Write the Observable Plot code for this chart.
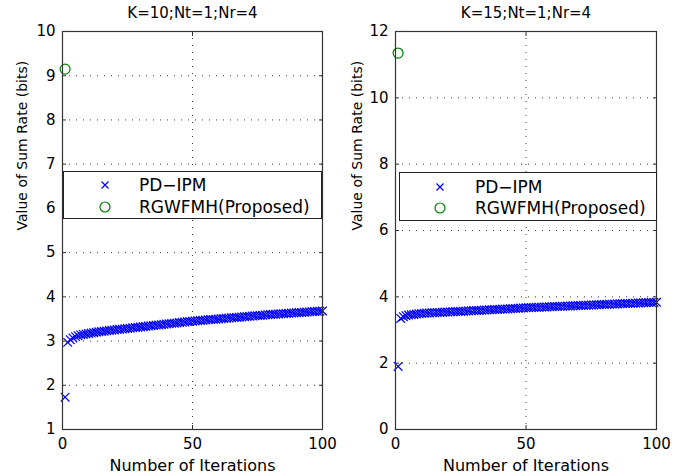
<!DOCTYPE html>
<html>
<head>
<meta charset="utf-8">
<script src="https://cdn.jsdelivr.net/npm/d3@7"></script>
<script src="https://cdn.jsdelivr.net/npm/@observablehq/plot@0.6"></script>
<style>
  html, body { margin: 0; padding: 0; background: #fff; }
  #wrap { position: relative; width: 684px; height: 476px; display: flex; }
  .legend { position: absolute; background: #fff; border: 1px solid #222; box-sizing: border-box;
            font-family: "DejaVu Sans", sans-serif; font-size: 17px; color: #000; }
  .legend svg { position: absolute; }
  .legend span { position: absolute; line-height: 20px; white-space: nowrap; }
</style>
</head>
<body>
<div id="wrap"></div>
<script>
// ---- data ----
const titles = ["K=10;Nt=1;Nr=4", "K=15;Nt=1;Nr=4"];
const xLabel = "Number of Iterations";
const yLabel = "Value of Sum Rate (bits)";
const seriesNames = ["PD\u2212IPM", "RGWFMH(Proposed)"];
const xTicks = [0, 50, 100];
const yTicksLeft = [1, 2, 3, 4, 5, 6, 7, 8, 9, 10];
const yTicksRight = [0, 2, 4, 6, 8, 10, 12];

// PD-IPM, K=10 (iterations 1..100)
const pdipmK10 = [
  1.73, 2.97, 3.03, 3.07, 3.10, 3.12, 3.14, 3.15, 3.16, 3.17,
  3.18, 3.19, 3.20, 3.21, 3.215, 3.22, 3.23, 3.24, 3.245, 3.25,
  3.26, 3.265, 3.27, 3.28, 3.285, 3.29, 3.30, 3.305, 3.31, 3.32,
  3.325, 3.33, 3.34, 3.345, 3.35, 3.36, 3.365, 3.37, 3.38, 3.385,
  3.39, 3.40, 3.405, 3.41, 3.42, 3.425, 3.43, 3.44, 3.445, 3.45,
  3.455, 3.46, 3.465, 3.47, 3.475, 3.48, 3.485, 3.49, 3.495, 3.50,
  3.505, 3.51, 3.515, 3.52, 3.525, 3.53, 3.535, 3.54, 3.545, 3.55,
  3.555, 3.56, 3.565, 3.57, 3.575, 3.58, 3.585, 3.59, 3.595, 3.60,
  3.604, 3.608, 3.612, 3.616, 3.62, 3.624, 3.628, 3.632, 3.636, 3.64,
  3.644, 3.648, 3.652, 3.656, 3.66, 3.664, 3.668, 3.672, 3.676, 3.68
];
// PD-IPM, K=15 (iterations 1..100)
const pdipmK15 = [
  1.90, 3.35, 3.40, 3.43, 3.45, 3.46, 3.47, 3.48, 3.49, 3.50,
  3.505, 3.51, 3.515, 3.52, 3.52, 3.525, 3.53, 3.535, 3.54, 3.54,
  3.545, 3.55, 3.555, 3.56, 3.56, 3.565, 3.57, 3.575, 3.58, 3.585,
  3.59, 3.59, 3.595, 3.60, 3.605, 3.61, 3.61, 3.615, 3.62, 3.625,
  3.63, 3.63, 3.635, 3.64, 3.645, 3.65, 3.655, 3.66, 3.665, 3.67,
  3.673, 3.676, 3.68, 3.683, 3.686, 3.69, 3.693, 3.696, 3.70, 3.703,
  3.706, 3.71, 3.713, 3.716, 3.72, 3.723, 3.726, 3.73, 3.733, 3.736,
  3.74, 3.743, 3.746, 3.75, 3.753, 3.756, 3.76, 3.763, 3.766, 3.77,
  3.773, 3.776, 3.78, 3.783, 3.786, 3.79, 3.793, 3.796, 3.80, 3.803,
  3.806, 3.81, 3.813, 3.816, 3.82, 3.823, 3.826, 3.83, 3.83, 3.835
];
// RGWFMH(Proposed): single point at iteration 1
const rgwfmhIter = [1];
const rgwfmhK10 = [9.15];
const rgwfmhK15 = [11.35];

const BLUE = "#0000ff";
const GREEN = "#008000";
const FONT = "DejaVu Sans, sans-serif";

function makePanel(cfg) {
  const pd = cfg.pd.map((v, i) => ({iter: i + 1, value: v}));
  const rg = cfg.rg.map((v, i) => ({iter: rgwfmhIter[i], value: v}));
  const noText = () => "";
  return Plot.plot({
    width: 342,
    height: 476,
    marginLeft: cfg.ml,
    marginRight: cfg.mr,
    marginTop: 31,
    marginBottom: 47,
    style: {fontFamily: FONT, fontSize: "15px", color: "#000", background: "#fff", overflow: "visible"},
    x: {domain: [0, 100]},
    y: {domain: cfg.yDomain},
    marks: [
      Plot.gridX(xTicks, {stroke: "#222", strokeOpacity: 0.9, strokeDasharray: "1,6"}),
      Plot.gridY(cfg.yTicks, {stroke: "#222", strokeOpacity: 0.9, strokeDasharray: "1,6"}),
      Plot.axisX({ticks: xTicks, tickSize: 0, tickPadding: 9, label: null, fontSize: 15}),
      Plot.axisY({ticks: cfg.yTicks, tickSize: 0, tickPadding: 7, label: null, fontSize: 15}),
      Plot.axisX({ticks: xTicks, anchor: "bottom", tickSize: -4, tickFormat: noText, label: null, stroke: "#333"}),
      Plot.axisX({ticks: xTicks, anchor: "top", tickSize: -4, tickFormat: noText, label: null, stroke: "#333"}),
      Plot.axisY({ticks: cfg.yTicks, anchor: "left", tickSize: -4, tickFormat: noText, label: null, stroke: "#333"}),
      Plot.axisY({ticks: cfg.yTicks, anchor: "right", tickSize: -4, tickFormat: noText, label: null, stroke: "#333"}),
      Plot.dot(pd, {x: "iter", y: "value", symbol: "times", r: 4, stroke: BLUE, strokeWidth: 1.2}),
      Plot.dot(rg, {x: "iter", y: "value", symbol: "circle", r: 5, stroke: GREEN, fill: "none", strokeWidth: 1.2}),
      Plot.frame({stroke: "#333", strokeWidth: 1.2}),
      Plot.text([cfg.title], {frameAnchor: "top", dy: -14, lineAnchor: "bottom", text: d => d, fontSize: 15}),
      Plot.text([xLabel], {frameAnchor: "bottom", dy: 41, lineAnchor: "bottom", text: d => d, fontSize: 16}),
      Plot.text([yLabel], {frameAnchor: "left", dx: cfg.ylx, rotate: -90, text: d => d, fontSize: 14})
    ]
  });
}

const wrap = document.getElementById("wrap");
wrap.appendChild(makePanel({pd: pdipmK10, rg: rgwfmhK10, yDomain: [1, 10], yTicks: yTicksLeft, ml: 62, mr: 20, title: titles[0], ylx: -40}));
wrap.appendChild(makePanel({pd: pdipmK15, rg: rgwfmhK15, yDomain: [0, 12], yTicks: yTicksRight, ml: 53, mr: 28, title: titles[1], ylx: -38}));

function addLegend(box) {
  const lg = document.createElement("div");
  lg.className = "legend";
  Object.assign(lg.style, {left: box.left + "px", top: box.top + "px", width: box.w + "px", height: box.h + "px"});
  const rows = [
    {name: seriesNames[0], kind: "times", cy: box.r1},
    {name: seriesNames[1], kind: "circle", cy: box.r2}
  ];
  rows.forEach(r => {
    const svg = d3.create("svg").attr("width", 14).attr("height", 14)
      .style("left", (box.mx - 7) + "px").style("top", (r.cy - 7) + "px");
    if (r.kind === "times") {
      svg.append("path").attr("d", "M3.5,3.5L10.5,10.5M10.5,3.5L3.5,10.5").attr("stroke", BLUE).attr("stroke-width", 1.2).attr("fill", "none");
    } else {
      svg.append("circle").attr("cx", 7).attr("cy", 7).attr("r", 5).attr("stroke", GREEN).attr("stroke-width", 1.2).attr("fill", "none");
    }
    lg.appendChild(svg.node());
    const sp = document.createElement("span");
    sp.textContent = r.name;
    sp.style.left = box.tx + "px";
    sp.style.top = (r.cy - 10) + "px";
    lg.appendChild(sp);
  });
  wrap.appendChild(lg);
}
addLegend({left: 63, top: 171, w: 259, h: 48, mx: 41, tx: 75, r1: 13, r2: 35});
addLegend({left: 399, top: 172, w: 258, h: 49, mx: 40, tx: 75, r1: 14, r2: 35});
</script>
</body>
</html>
